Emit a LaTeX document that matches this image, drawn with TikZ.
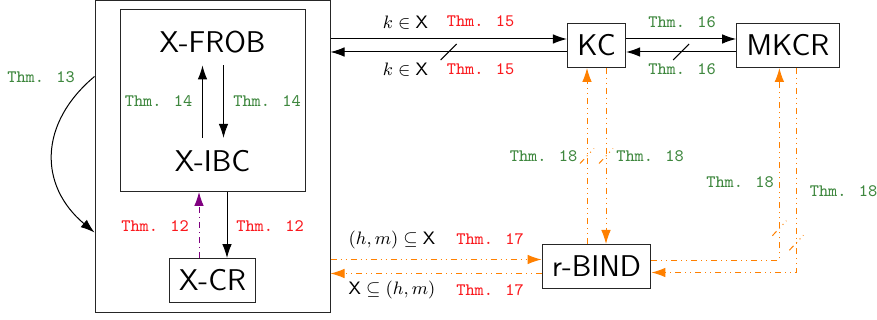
\documentclass[tikz,border=0pt]{standalone}
\usepackage{amssymb}
\usetikzlibrary{arrows.meta, positioning, decorations.markings}
\definecolor{thmred}{RGB}{250, 25, 30}
\definecolor{thmgreen}{RGB}{62, 135, 62}
\definecolor{bindorange}{RGB}{255, 128, 0}
\definecolor{crpurple}{RGB}{128, 0, 128}
\tikzset{
	notion/.style={rectangle, draw=black!85, fill=white, line width=0.5pt, inner xsep=5pt, minimum height=22pt, font=\fontsize{15}{18}\selectfont\sffamily},
	bare/.style={inner xsep=0pt, inner ysep=6pt, font=\fontsize{15}{18}\selectfont\sffamily},
	frame/.style={rectangle, draw=black!85, line width=0.5pt},
	thm/.style={inner sep=0pt, font=\fontsize{8.75}{10}\selectfont\ttfamily},
	red thm/.style={thm, text=thmred},
	green thm/.style={thm, text=thmgreen},
	cond/.style={inner sep=0pt, font=\fontsize{9}{10}\selectfont},
	arrow/.style={-{Latex[length=7pt, width=4.8pt]}, line width=0.5pt},
	orangearrow/.style={arrow, draw=bindorange, dash dot dot},
	strike/.style={postaction={decorate, decoration={markings, mark=at position 0.5 with {\pgftransformresetnontranslations\draw[-, solid, black, line width=0.5pt] (-4pt,-4pt) -- (4pt,4pt);}}}},
	orangestrike/.style={postaction={decorate, decoration={markings, mark=at position 0.5 with {\pgftransformresetnontranslations\draw[-, bindorange, dash dot dot, line width=0.5pt] (-3.5pt,-3.75pt) -- (3.5pt,3.75pt);}}}},
}
\begin{document}
\begin{tikzpicture}[x=0.5pt, y=0.5pt]
		\useasboundingbox (0,0) rectangle (877,-320);
		\node[frame, minimum width=117.5pt, minimum height=155.5pt] (outer) at (212.5,-156.5) {};
		\node[frame, minimum width=92.5pt, minimum height=91pt] (inner) at (212.5,-100.5) {};
		\node[bare] (frob) at (212.5,-42) {X-FROB};
		\node[bare] (ibc) at (212.5,-161) {X-IBC};
		\node[notion, below=33pt of inner] (xcr) {X-CR};
		\node[notion] (kc) at (596.5,-45.5) {KC};
		\node[notion, right=55pt of kc] (mkcr) {MKCR};
		\node[notion, below=88pt of kc] (rbind) {r-BIND};
		\draw[arrow] ([xshift=-5pt]ibc.north) -- ([xshift=-5pt]frob.south);
		\draw[arrow] ([xshift=5.5pt]frob.south) -- ([xshift=5.5pt]ibc.north);
		\draw[arrow, draw=crpurple, dash dot] ([xshift=-6.75pt]xcr.north) -- ([xshift=-6.75pt]inner.south);
		\draw[arrow] ([xshift=7.25pt]inner.south) -- ([xshift=7.25pt]xcr.north);
		\draw[arrow] ([yshift=-38pt]outer.north west) to[out=220, in=140, looseness=1.2] ([yshift=-116pt]outer.north west);
		\draw[arrow] ([yshift=3.25pt]kc.west -| outer.east) -- ([yshift=3.25pt]kc.west);
		\draw[arrow, strike] ([yshift=-3.25pt]kc.west) -- ([yshift=-3.25pt]kc.west -| outer.east);
		\draw[arrow] ([yshift=3.25pt]kc.east) -- ([yshift=3.25pt]mkcr.west);
		\draw[arrow, strike] ([yshift=-3.25pt]mkcr.west) -- ([yshift=-3.25pt]kc.east);
		\draw[orangearrow, orangestrike] ([xshift=-4.75pt]rbind.north) -- ([xshift=-4.75pt]kc.south);
		\draw[orangearrow, orangestrike] ([xshift=4.75pt]kc.south) -- ([xshift=4.75pt]rbind.north);
		\draw[orangearrow, orangestrike] ([yshift=3pt]rbind.east) -| ([xshift=-4.25pt]mkcr.south);
		\draw[orangearrow, orangestrike] ([xshift=4.25pt]mkcr.south) |- ([yshift=-3pt]rbind.east);
		\draw[orangearrow] ([yshift=3.5pt]rbind.west -| outer.east) -- ([yshift=3.5pt]rbind.west);
		\draw[orangearrow] ([yshift=-3.5pt]rbind.west) -- ([yshift=-3.5pt]rbind.west -| outer.east);
		\node[green thm] (t13) at (41,-77.5) {Thm. 13};
		\node[green thm] (t14l) at (158.5,-101) {Thm. 14};
		\node[green thm] (t14r) at (267,-101) {Thm. 14};
		\node[red thm] (t12l) at (155,-226) {Thm. 12};
		\node[red thm] (t12r) at (270,-226) {Thm. 12};
		\node[cond] (kin1) at (405.5,-22.7) {$k \in \mathsf{X}$};
		\node[red thm] (t15a) at (480.5,-21) {Thm. 15};
		\node[cond] (kin2) at (405.5,-70) {$k \in \mathsf{X}$};
		\node[red thm] (t15b) at (480.5,-69.5) {Thm. 15};
		\node[green thm] (t16a) at (682,-22.5) {Thm. 16};
		\node[green thm] (t16b) at (682,-69.5) {Thm. 16};
		\node[green thm] (t18a) at (543.5,-156) {Thm. 18};
		\node[green thm] (t18b) at (650,-156) {Thm. 18};
		\node[green thm] (t18c) at (740,-182.5) {Thm. 18};
		\node[green thm] (t18d) at (843.5,-191) {Thm. 18};
		\node[cond] (hm1) at (392,-239.5) {$(h,m) \subseteq \mathsf{X}$};
		\node[red thm] (t17a) at (490,-239) {Thm. 17};
		\node[cond] (hm2) at (392,-290) {$\mathsf{X} \subseteq (h,m)$};
		\node[red thm] (t17b) at (490,-290) {Thm. 17};
	\end{tikzpicture}
\end{document}
